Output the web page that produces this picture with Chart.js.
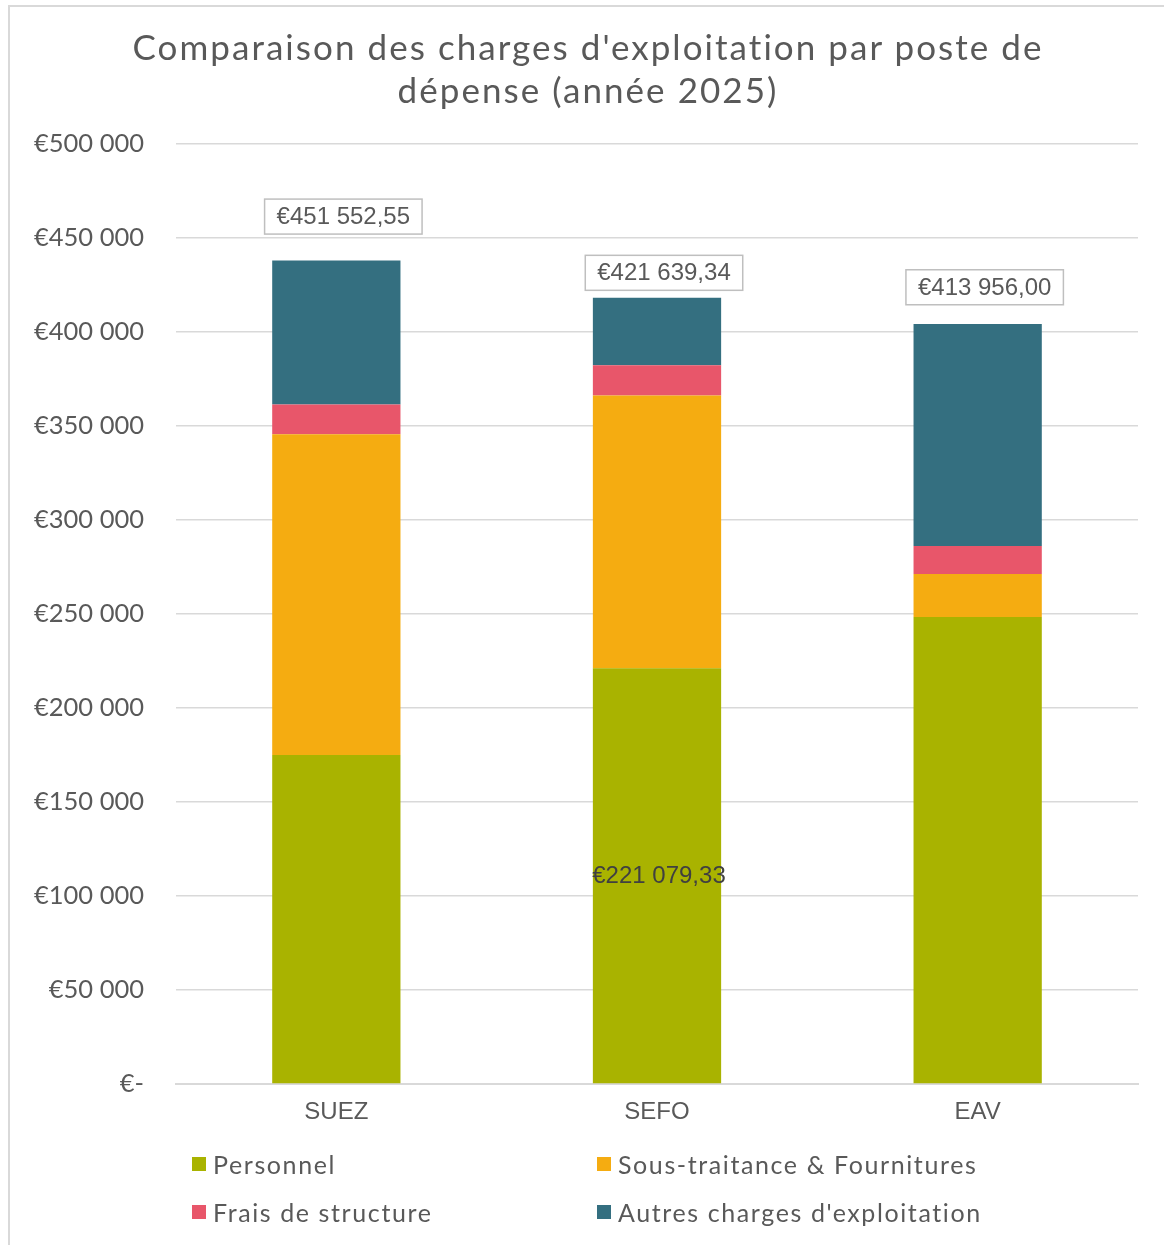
<!DOCTYPE html>
<html lang="fr">
<head>
<meta charset="utf-8">
<script src="https://cdn.jsdelivr.net/npm/chart.js@4.4.1/dist/chart.umd.min.js"></script>
<style>
  html, body { margin:0; padding:0; background:#fff; }
  body { width:1164px; height:1245px; position:relative; overflow:hidden; font-family:"Lato", sans-serif; }
  #frame { position:absolute; left:8px; top:5px; width:1200px; height:1300px; border-left:2px solid #d9d9d9; border-top:2px solid #d9d9d9; }
  #title { position:absolute; left:6px; width:1164px; top:25px; text-align:center; color:#595959; font-size:35px; line-height:43px; letter-spacing:2.05px; }
  #wrap { position:absolute; left:0; top:0; width:1164px; height:1245px; }
  #legend { position:absolute; left:192px; top:1146px; width:900px; display:grid; grid-template-columns:405px 405px; row-gap:13px; color:#595959; font-size:25px; letter-spacing:1.6px; }
  #legend .item { display:flex; align-items:center; height:35px; }
  #legend .sw { width:14px; height:14px; margin-right:7px; }
</style>
</head>
<body>
<div id="frame"></div>
<div id="wrap"><canvas id="chart"></canvas></div>
<div id="title">Comparaison des charges d'exploitation par poste de<br>dépense (année 2025)</div>
<div id="legend"></div>
<script>
const categories = ["SUEZ", "SEFO", "EAV"];
const personnel = [175000, 221079.33, 248400];
const sousTraitance = [170600, 145200, 22900];
const fraisStructure = [15900, 16100, 14900];
const autresCharges = [76500, 35900, 118100];
const totals = [451552.55, 421639.34, 413956.00];
const yTicks = [0, 50000, 100000, 150000, 200000, 250000, 300000, 350000, 400000, 450000, 500000];

const GREY = "#595959";

function euro(v, dec) {
  const s = v.toFixed(dec);
  let [ent, frac] = s.split(".");
  ent = ent.replace(/\B(?=(\d{3})+(?!\d))/g, " ");
  return "€" + ent + (frac ? "," + frac : "");
}

// totals boxes above each bar + the single label inside SEFO personnel
const labelsPlugin = {
  id: "labels",
  afterDatasetsDraw(chart) {
    const { ctx, scales: { x, y } } = chart;
    ctx.save();
    ctx.font = '24px "Liberation Sans", Arial, sans-serif';
    ctx.textAlign = "center";
    ctx.textBaseline = "middle";
    totals.forEach((t, i) => {
      const txt = euro(t, 2);
      const w = ctx.measureText(txt).width + 24;
      const h = 35;
      const cx = x.getPixelForValue(i) + 7;
      const bottom = y.getPixelForValue(t) - 1;
      ctx.fillStyle = "#fff";
      ctx.fillRect(cx - w / 2, bottom - h, w, h);
      ctx.strokeStyle = "#bfbfbf";
      ctx.lineWidth = 1.5;
      ctx.strokeRect(cx - w / 2, bottom - h, w, h);
      ctx.fillStyle = GREY;
      ctx.fillText(txt, cx, bottom - h / 2 + 1);
    });
    // data label on SEFO personnel
    const bar = chart.getDatasetMeta(0).data[1];
    ctx.fillStyle = "#404040";
    ctx.fillText(euro(personnel[1], 2), bar.x + 2, (bar.y + bar.base) / 2 + 1);
    ctx.restore();
  }
};

const datasets = [
  { label: "Personnel", data: personnel, backgroundColor: "#a9b300" },
  { label: "Sous-traitance & Fournitures", data: sousTraitance, backgroundColor: "#f5ac11" },
  { label: "Frais de structure", data: fraisStructure, backgroundColor: "#e8566a" },
  { label: "Autres charges d'exploitation", data: autresCharges, backgroundColor: "#346f80" }
];

const chart = new Chart(document.getElementById("chart"), {
  type: "bar",
  data: { labels: categories, datasets: datasets.map(d => ({ ...d, barPercentage: 0.4, categoryPercentage: 1, borderWidth: 0 })) },
  options: {
    responsive: true,
    maintainAspectRatio: false,
    animation: false,
    layout: { padding: { top: 144, right: 26, left: 0, bottom: 0 } },
    plugins: { legend: { display: false }, title: { display: false }, tooltip: { enabled: false } },
    scales: {
      x: {
        stacked: true,
        grid: { display: false },
        border: { color: "#d9d9d9", width: 2 },
        ticks: { color: GREY, font: { family: '"Liberation Sans", Arial, sans-serif', size: 24 }, padding: 6 },
        afterFit: (s) => { s.height = 161; }
      },
      y: {
        stacked: true,
        min: 0,
        max: 500000,
        afterBuildTicks: (s) => { s.ticks = yTicks.map(v => ({ value: v })); },
        grid: { color: "#d9d9d9", lineWidth: 1.5, drawTicks: false },
        border: { display: false },
        ticks: {
          color: GREY,
          font: { family: "Lato", size: 25.5 },
          padding: 32,
          callback: (v) => v === 0 ? "€-" : euro(v, 0)
        },
        afterFit: (s) => { s.width = 176; }
      }
    }
  },
  plugins: [labelsPlugin]
});

// legend built from the datasets, 2 columns
const legendEl = document.getElementById("legend");
datasets.forEach(d => {
  const it = document.createElement("div");
  it.className = "item";
  it.innerHTML = `<span class="sw" style="background:${d.backgroundColor}"></span><span>${d.label}</span>`;
  legendEl.appendChild(it);
});
</script>
</body>
</html>
